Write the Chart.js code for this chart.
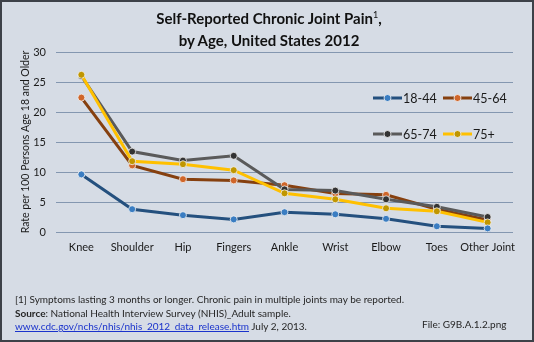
<!DOCTYPE html>
<html>
<head>
<meta charset="utf-8">
<script src="https://cdn.jsdelivr.net/npm/chart.js@4"></script>
<style>
  html, body { margin: 0; padding: 0; }
  body { width: 534px; height: 342px; overflow: hidden; }
  #wrap {
    position: relative; width: 530px; height: 338px;
    background: #d6dce5; border: 2px solid #3d4148;
    font-family: Lato, "Open Sans", sans-serif; color: #1a1a1a;
  }
  #chart { position: absolute; left: -2px; top: -2px; }
  .title {
    position: absolute; left: 0; width: 534px; text-align: center;
    font-weight: bold; font-size: 15px; color: #111;
  }
  .note { position: absolute; left: 13px; font-size: 10px; white-space: nowrap; color: #262626; }
  .note a { color: #1a33cc; text-decoration: underline; }
</style>
</head>
<body>
<div id="wrap">
  <canvas id="chart" width="534" height="342"></canvas>
  <div class="title" style="top:7px">Self-Reported Chronic Joint Pain<sup style="font-size:9px;font-weight:normal">1</sup>,</div>
  <div class="title" style="top:29px">by Age, United States 2012</div>
  <div class="note" style="top:291px">[1] Symptoms lasting 3 months or longer. Chronic pain in multiple joints may be reported.</div>
  <div class="note" style="top:305px"><b>Source</b>: National Health Interview Survey (NHIS)_Adult sample.</div>
  <div class="note" style="top:318px"><a>www.cdc.gov/nchs/nhis/nhis_2012_data_release.htm</a> July 2, 2013.</div>
  <div class="note" style="top:316px;left:420px">File: G9B.A.1.2.png</div>
</div>
<script>
const joints = ['Knee', 'Shoulder', 'Hip', 'Fingers', 'Ankle', 'Wrist', 'Elbow', 'Toes', 'Other Joint'];
const age18to44 = [9.6, 3.8, 2.8, 2.1, 3.3, 2.95, 2.2, 0.95, 0.6];
const age45to64 = [22.4, 11.1, 8.8, 8.6, 7.8, 6.4, 6.2, 3.8, 2.0];
const age65to74 = [26.0, 13.4, 11.9, 12.7, 7.1, 6.9, 5.45, 4.2, 2.5];
const age75plus = [26.2, 11.8, 11.3, 10.3, 6.45, 5.45, 3.95, 3.45, 1.6];
const yTicks = [0, 5, 10, 15, 20, 25, 30];

function series(label, data, line, dot, order) {
  return {
    label: label, data: data, order: order,
    borderColor: line, backgroundColor: dot,
    borderWidth: 3, pointRadius: 3.5, pointBorderColor: '#f2f2f2', pointBorderWidth: 0.8,
    tension: 0
  };
}

// legend drawn by hand in the 2x2 layout of the original
const legendPlugin = {
  id: 'boxLegend',
  afterDraw(chart) {
    const ctx = chart.ctx;
    const spots = [[373, 98], [443, 98], [373, 134], [443, 134]];
    const byLabel = ['18-44', '45-64', '65-74', '75+'];
    byLabel.forEach((lbl, i) => {
      const ds = chart.data.datasets.find(d => d.label === lbl);
      const [x, y] = spots[i];
      ctx.save();
      ctx.strokeStyle = ds.borderColor;
      ctx.lineWidth = 3;
      ctx.beginPath(); ctx.moveTo(x, y); ctx.lineTo(x + 29, y); ctx.stroke();
      ctx.fillStyle = ds.backgroundColor;
      ctx.strokeStyle = '#f2f2f2'; ctx.lineWidth = 0.8;
      ctx.beginPath(); ctx.arc(x + 14.5, y, 3.5, 0, Math.PI * 2); ctx.fill(); ctx.stroke();
      ctx.fillStyle = '#1a1a1a';
      ctx.font = '12.5px Lato';
      ctx.textBaseline = 'middle';
      ctx.fillText(lbl, x + 30, y + 1);
      ctx.restore();
    });
  }
};

new Chart(document.getElementById('chart'), {
  type: 'line',
  data: {
    labels: joints,
    datasets: [
      series('18-44', age18to44, '#24507e', '#3a7dc2', 1),
      series('45-64', age45to64, '#86400f', '#d0662a', 4),
      series('65-74', age65to74, '#5a5a5a', '#333333', 3),
      series('75+', age75plus, '#ffc000', '#c09600', 2)
    ]
  },
  plugins: [legendPlugin],
  options: {
    responsive: false,
    animation: false,
    layout: { padding: { left: 0, top: 52, right: 21, bottom: 78 } },
    plugins: { legend: { display: false }, tooltip: { enabled: false } },
    scales: {
      x: {
        offset: true,
        grid: { display: false },
        border: { display: false },
        ticks: { color: '#1a1a1a', font: { family: 'Lato', size: 11 }, padding: 1, maxRotation: 0, autoSkip: false },
        afterFit: s => { s.height = 32; }
      },
      y: {
        min: 0, max: 30,
        afterBuildTicks: s => { s.ticks = yTicks.map(v => ({ value: v })); },
        grid: { color: '#8497b0', lineWidth: 1, drawTicks: false },
        border: { display: false },
        ticks: { color: '#1a1a1a', font: { family: 'Lato', size: 11 }, padding: 10 },
        title: {
          display: true, text: 'Rate per 100 Persons Age 18 and Older',
          color: '#1a1a1a', font: { family: 'Lato', size: 10.5 }, padding: { top: 19, bottom: 0 }
        },
        afterFit: s => { s.width = 56; }
      }
    }
  }
});
</script>
</body>
</html>
